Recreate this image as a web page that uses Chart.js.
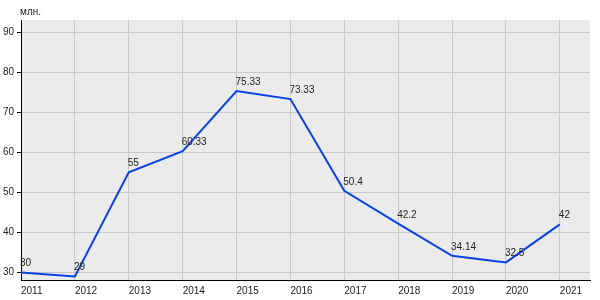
<!DOCTYPE html>
<html><head><meta charset="utf-8">
<script src="https://cdn.jsdelivr.net/npm/chart.js@4"></script>
<style>html,body{margin:0;padding:0;background:#fff}#w{width:600px;height:300px;position:relative}</style>
</head><body><div id="w"><canvas id="c"></canvas></div>
<script>
const years = [2011,2012,2013,2014,2015,2016,2017,2018,2019,2020,2021];
const values = [30,29,55,60.33,75.33,73.33,50.4,42.2,34.14,32.5,42];
const labels = ["30","29","55","60.33","75.33","73.33","50.4","42.2","34.14","32.5","42"];
const yTicks = [30,40,50,60,70,80,90];
const unitLabel = "млн.";

const FAM = 'Arial, "Liberation Sans", sans-serif';
const FONT = '10px ' + FAM;

const bgPlugin = {
  id:'bg',
  beforeDraw(chart){
    const {ctx, chartArea:a} = chart;
    ctx.save(); ctx.fillStyle='#ebebeb';
    ctx.fillRect(a.left,a.top,a.right-a.left,a.bottom-a.top);
    ctx.restore();
  },
  afterDatasetsDraw(chart){
    const {ctx} = chart;
    const xs = chart.scales.x, ys = chart.scales.y;
    ctx.save();
    ctx.font = FONT; ctx.fillStyle='#222'; ctx.textAlign='left'; ctx.textBaseline='alphabetic';
    years.forEach((yr,i)=>{
      ctx.fillText(labels[i], xs.getPixelForValue(yr)-1, ys.getPixelForValue(values[i])-6);
    });
    ctx.fillText(unitLabel, 20, 15);
    ctx.restore();
  }
};

new Chart(document.getElementById('c'), {
  type:'line',
  data:{ datasets:[{ data: years.map((y,i)=>({x:y,y:values[i]})), borderColor:'#0842e6', borderWidth:2, pointRadius:0, tension:0, fill:false }]},
  options:{
    responsive:true, maintainAspectRatio:false, animation:false,
    layout:{padding:{top:20,right:10,left:0,bottom:0}},
    plugins:{legend:{display:false},tooltip:{enabled:false}},
    scales:{
      x:{type:'linear', min:2011, max:2021.56,
        afterBuildTicks(s){ s.ticks = years.map(v=>({value:v})); },
        afterFit(s){ s.height = 20; },
        grid:{color:'#c8c8c8', drawTicks:false, lineWidth:1},
        border:{color:'#000', width:1},
        ticks:{align:'start', padding:5, color:'#222', font:{family:FAM, size:10}, callback:v=>String(v), maxRotation:0, autoSkip:false}
      },
      y:{type:'linear', min:28.1, max:93.1,
        afterBuildTicks(s){ s.ticks = yTicks.map(v=>({value:v})); },
        afterFit(s){ s.width = 21; },
        grid:{color:'#c8c8c8', drawTicks:true, tickLength:4, tickColor:'#000', lineWidth:1},
        border:{color:'#000', width:1},
        ticks:{padding:3, color:'#222', font:{family:FAM, size:10}, callback:v=>String(v)}
      }
    }
  },
  plugins:[bgPlugin]
});
</script></body></html>
